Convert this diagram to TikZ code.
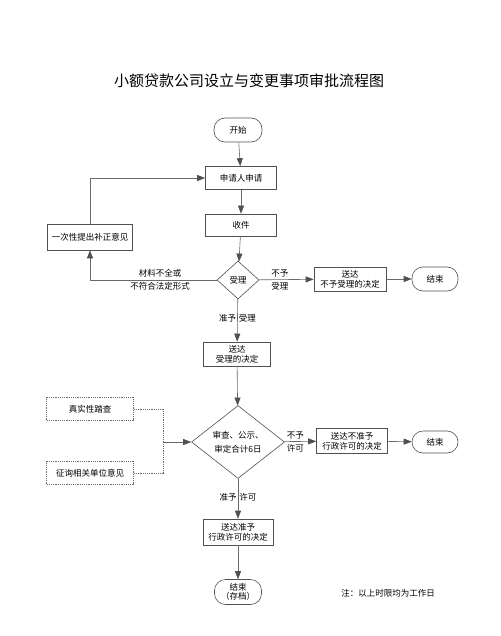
\documentclass[tikz,border=0pt]{standalone}
\usepackage{fontspec}
\setmainfont{Noto Sans CJK SC}
\usetikzlibrary{arrows.meta}
\usetikzlibrary{shapes.geometric}
\definecolor{linegray}{RGB}{105,105,105}
\definecolor{boxgray}{RGB}{80,80,80}
\definecolor{tipgray}{RGB}{80,80,80}

\begin{document}
\begin{tikzpicture}[x=1pt, y=-1pt, >={Triangle[length=8pt,width=6pt,color=tipgray]},
schritt/.style={draw=boxgray, line width=.6pt, rectangle, inner sep=0, align=center, font=\fontsize{8.5}{10}\selectfont},
terminal/.style={schritt, rounded corners=11pt},
entscheid/.style={draw=boxgray, line width=.6pt, diamond, inner sep=0, align=center, font=\fontsize{8.5}{14}\selectfont},
hilfe/.style={schritt, draw=linegray, dash pattern=on 1.2pt off 1pt},
pfeil/.style={->, draw=linegray, line width=.6pt},
punktiert/.style={draw=linegray, line width=.6pt, dash pattern=on 1.2pt off 1pt},
beschr/.style={inner sep=0, align=left, font=\fontsize{8.5}{13}\selectfont}]
\useasboundingbox (0,0) rectangle (500,636);
\node[inner sep=0, font=\fontsize{15}{17}\selectfont] (titel) at (249,81) {小额贷款公司设立与变更事项审批流程图};
% Hauptstrang
\node[terminal, minimum width=48pt, minimum height=24pt] (start) at (238,130) {开始};
\node[schritt, minimum width=71pt, minimum height=23pt] (antrag) at (241,178) {申请人申请};
\node[schritt, minimum width=71pt, minimum height=22pt] (eingang) at (241,225) {收件};
\node[entscheid, minimum width=42pt, minimum height=38pt] (annahme) at (238,280) {受理};
\node[schritt, minimum width=85pt, minimum height=26pt] (nachbess) at (90,237) {一次性提出补正意见};
\node[schritt, minimum width=72pt, minimum height=24pt] (ablehn) at (350,279) {送达\\不予受理的决定};
\node[terminal, minimum width=46pt, minimum height=24pt] (ende1) at (435,279) {结束};
\node[schritt, minimum width=67pt, minimum height=24pt] (annbesch) at (237,354) {送达\\受理的决定};
\node[entscheid, minimum width=93pt, minimum height=71pt] (pruef) at (238,442) {审查、公示、\\审定合计6日};
\node[hilfe, minimum width=87pt, minimum height=23pt] (vorort) at (90,409) {真实性踏查};
\node[hilfe, minimum width=87pt, minimum height=23pt] (anhoer) at (90,473) {征询相关单位意见};
\coordinate (knoten) at (163,442);
\node[schritt, minimum width=71pt, minimum height=25pt] (versag) at (352,441) {送达不准予\\行政许可的决定};
\node[terminal, minimum width=46pt, minimum height=22pt] (ende2) at (435,442) {结束};
\node[schritt, minimum width=70pt, minimum height=26pt] (erteil) at (238,532) {送达准予\\行政许可的决定};
\node[terminal, minimum width=47pt, minimum height=25pt, font=\fontsize{8.5}{9.5}\selectfont] (ende3) at (238,592) {结束\\（存档）};
\node[beschr] (hinweis) at (388,593) {注：以上时限均为工作日};
% Verbindungen
\draw[pfeil] (start) -- (antrag);
\draw[pfeil] (antrag) -- (eingang);
\draw[pfeil] (eingang) -- (annahme);
\draw[pfeil] (annahme) -- (ablehn) node[beschr, pos=.38]{不予\\受理};
\draw[pfeil] (ablehn) -- (ende1);
\draw[pfeil] (annahme.west) -| (nachbess.south);
\node[beschr, align=center] (mangel) at (160,280) {材料不全或\\不符合法定形式};
\draw[pfeil] (nachbess.north) |- (antrag.west);
\draw[pfeil] (annahme) -- (annbesch) node[beschr, pos=.45]{准予\,\,受理};
\draw[pfeil] (annbesch) -- (pruef);
\draw[punktiert] (vorort.east) -| (knoten);
\draw[punktiert] (anhoer.east) -| (knoten);
\draw[pfeil] (knoten) -- (pruef.west);
\draw[pfeil] (pruef) -- (versag) node[beschr, pos=.35]{不予\\许可};
\draw[pfeil] (versag) -- (ende2);
\draw[pfeil] (pruef) -- (erteil) node[beschr, pos=.47]{准予\,\,许可};
\draw[pfeil] (erteil) -- (ende3);
\end{tikzpicture}
\end{document}
